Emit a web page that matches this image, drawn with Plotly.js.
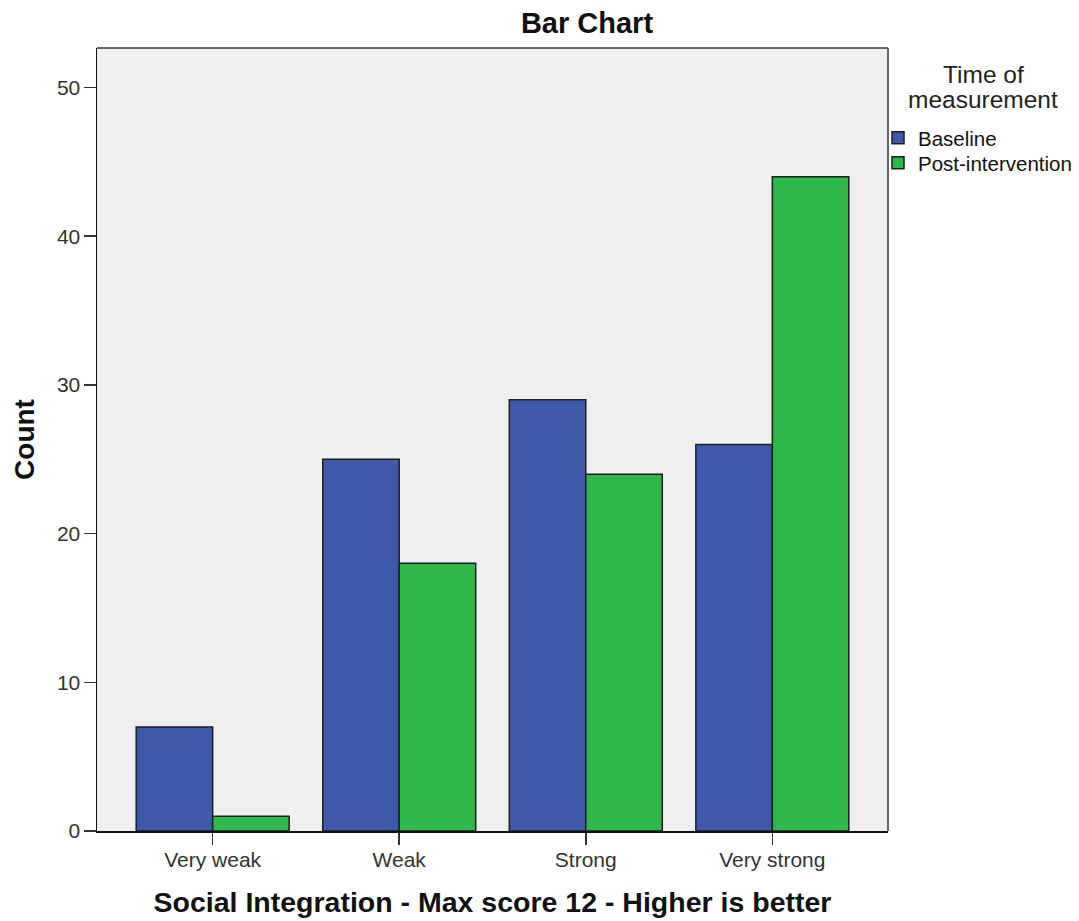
<!DOCTYPE html>
<html>
<head>
<meta charset="utf-8">
<script src="https://cdn.plot.ly/plotly-3.0.1.min.js"></script>
<style>html,body{margin:0;padding:0;background:#fff;}#chart{width:1079px;height:921px;}</style>
</head>
<body>
<div id="chart"></div>
<script>
const categories = ["Very weak", "Weak", "Strong", "Very strong"];
const baselineCounts = [7, 25, 29, 26];
const postCounts = [1, 18, 24, 44];
const seriesNames = ["Baseline", "Post-intervention"];
const legendTitleLines = ["Time of", "measurement"];
const yTickValues = [0, 10, 20, 30, 40, 50];

const FONT = "Liberation Sans, Arial, sans-serif";
const W = 1079, H = 921;
const mL = 97, mR = 191, mT = 48, mB = 90;
const plotW = W - mL - mR, plotH = H - mT - mB;
const px2x = p => (p - mL) / plotW;
const cx = p => p / W;
const cy = p => 1 - p / H;

const traces = [
  {type: "bar", name: seriesNames[0], x: categories, y: baselineCounts, legend: "legend",
   marker: {color: "#3e58ac", line: {color: "#1e1e1e", width: 1.5}}},
  {type: "bar", name: seriesNames[1], x: categories, y: postCounts, legend: "legend2",
   marker: {color: "#2eb84a", line: {color: "#1e1e1e", width: 1.5}}}
];

const legendBase = {
  xref: "container", yref: "container",
  x: cx(878), xanchor: "left", yanchor: "middle",
  bgcolor: "rgba(0,0,0,0)", borderwidth: 0,
  font: {family: FONT, size: 20.5, color: "#111"}
};

const layout = {
  width: W, height: H,
  margin: {l: mL, r: mR, t: mT, b: mB, pad: 0, autoexpand: false},
  paper_bgcolor: "#ffffff",
  plot_bgcolor: "#efefef",
  barmode: "group",
  bargap: 0.18,
  bargroupgap: 0,
  font: {family: FONT, color: "#222"},
  title: {
    text: "<b>Bar Chart</b>",
    font: {family: FONT, size: 29, color: "#111"},
    xref: "paper", x: px2x(587), xanchor: "center",
    yref: "container", y: 1 - 23 / H, yanchor: "middle"
  },
  xaxis: {
    type: "category",
    range: [-0.62, 3.62],
    showgrid: false, zeroline: false,
    showline: true, linecolor: "#111", linewidth: 1.5,
    ticks: "outside", ticklen: 12, tickwidth: 1.5, tickcolor: "#333",
    ticklabelstandoff: -3,
    tickfont: {family: FONT, size: 21, color: "#333"},
    title: {text: "<b>Social Integration - Max score 12 - Higher is better</b>",
            font: {family: FONT, size: 28.5, color: "#111"}, standoff: 22},
    automargin: false, fixedrange: true
  },
  yaxis: {
    range: [0, 52.66],
    tickvals: yTickValues,
    showgrid: false, zeroline: false,
    showline: true, linecolor: "#111", linewidth: 1.5,
    ticks: "outside", ticklen: 12, tickwidth: 1.5, tickcolor: "#333",
    ticklabelstandoff: -1,
    tickfont: {family: FONT, size: 21, color: "#333"},
    title: {text: "<b>Count</b>", font: {family: FONT, size: 28, color: "#111"}, standoff: 14},
    automargin: false, fixedrange: true
  },
  showlegend: true,
  legend: Object.assign({}, legendBase, {y: cy(138)}),
  legend2: Object.assign({}, legendBase, {y: cy(163)}),
  annotations: legendTitleLines.map((t, i) => ({
    text: t, xref: "paper", yref: "paper",
    x: px2x(983), y: 1 - ((74 + 25 * i) - mT) / plotH,
    xanchor: "center", yanchor: "middle", showarrow: false,
    font: {family: FONT, size: 24.5, color: "#222"}
  })),
  shapes: [
    {type: "line", xref: "paper", yref: "paper", x0: 0, x1: 1, y0: 1, y1: 1,
     line: {color: "#666", width: 2}},
    {type: "line", xref: "paper", yref: "paper", x0: 1, x1: 1, y0: 0, y1: 1,
     line: {color: "#666", width: 2}}
  ]
};

Plotly.newPlot("chart", traces, layout, {displayModeBar: false, staticPlot: true});
</script>
</body>
</html>
